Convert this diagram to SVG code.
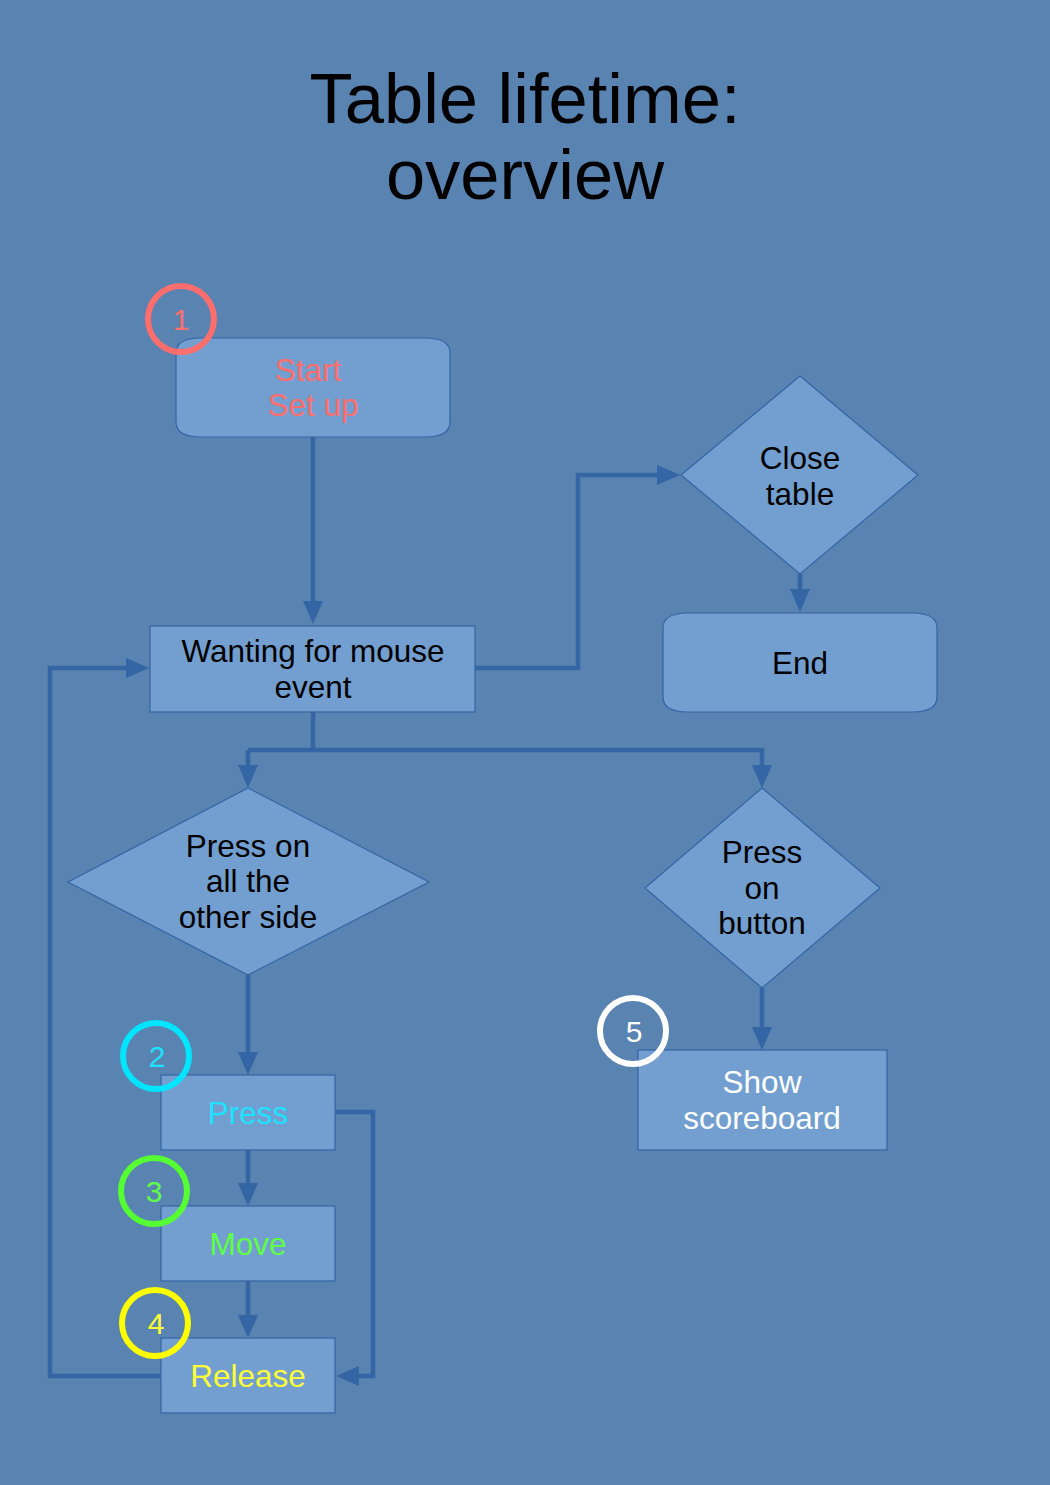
<svg xmlns="http://www.w3.org/2000/svg" width="1050" height="1485" viewBox="0 0 1050 1485">
<defs>
<marker id="ah" markerUnits="userSpaceOnUse" markerWidth="24" markerHeight="20" refX="2" refY="10" orient="auto">
<path d="M0,0 L23,10 L0,20 z" fill="#3465a4"/>
</marker>
<style>
.bg{fill:#5983b0}
.n{fill:#729fcf;stroke:#3465a4;stroke-width:1.2}
.c{fill:none;stroke:#3465a4;stroke-width:4.5;marker-end:url(#ah)}
.cn{fill:none;stroke:#3465a4;stroke-width:4.5}
text{font-family:"Liberation Sans",Arial,sans-serif;text-anchor:middle}
.t{font-size:31.5px;fill:#000}
.ring{fill:none;stroke-width:6}
.num{font-size:30px}
</style>
</defs>
<rect class="bg" x="0" y="0" width="1050" height="1485"/>
<g id="title">
<text x="525" y="123" font-size="70.5">Table lifetime:</text>
<text x="525" y="199" font-size="70.5">overview</text>
</g>
<g id="connectors">
<path class="c" d="M313,437 V603"/>
<path class="c" d="M475,668 H578 V475 H659"/>
<path class="c" d="M800,574 V591"/>
<path class="cn" d="M313,712 V750"/>
<path class="c" d="M248,750 H762 V767"/>
<path class="c" d="M248,750 V767"/>
<path class="c" d="M248,975 V1054"/>
<path class="c" d="M248,1150 V1185"/>
<path class="c" d="M248,1281 V1317"/>
<path class="c" d="M335,1112 H373 V1376 H357"/>
<path class="c" d="M161,1376 H50 V668 H128"/>
<path class="c" d="M762,988 V1029"/>
</g>
<g id="start">
<path class="n" d="M201,338 H425 Q450,338 450,353 V422 Q450,437 425,437 H201 Q176,437 176,422 V353 Q176,338 201,338 Z"/>
<text x="308" y="381" font-size="31.5" fill="#ff6d6d">Start</text>
<text x="313" y="416" font-size="31.5" fill="#ff6d6d">Set up</text>
</g>
<g id="badge1">
<circle class="ring" cx="181" cy="319" r="33" stroke="#ff6d6d"/>
<text class="num" x="181" y="330" fill="#ff6d6d">1</text>
</g>
<g id="wanting">
<rect class="n" x="150" y="626" width="325" height="86"/>
<text class="t" x="313" y="662">Wanting for mouse</text>
<text class="t" x="313" y="698">event</text>
</g>
<g id="close">
<polygon class="n" points="800,376 918,475 800,574 681,475"/>
<text class="t" x="800" y="469">Close</text>
<text class="t" x="800" y="505">table</text>
</g>
<g id="end">
<path class="n" d="M688,613 H912 Q937,613 937,628 V697 Q937,712 912,712 H688 Q663,712 663,697 V628 Q663,613 688,613 Z"/>
<text class="t" x="800" y="674">End</text>
</g>
<g id="pressSide">
<polygon class="n" points="248,788 429,882 248,975 68,882"/>
<text class="t" x="248" y="857">Press on</text>
<text class="t" x="248" y="892">all the</text>
<text class="t" x="248" y="928">other side</text>
</g>
<g id="pressButton">
<polygon class="n" points="762,788 880,888 762,988 645,888"/>
<text class="t" x="762" y="863">Press</text>
<text class="t" x="762" y="899">on</text>
<text class="t" x="762" y="934">button</text>
</g>
<g id="press">
<rect class="n" x="161" y="1075" width="174" height="75"/>
<text x="248" y="1124" font-size="31.5" fill="#1ee1ff">Press</text>
</g>
<g id="badge2">
<circle class="ring" cx="156" cy="1056" r="33" stroke="#00e5ff"/>
<text class="num" x="157" y="1067" fill="#1ee1ff">2</text>
</g>
<g id="move">
<rect class="n" x="161" y="1206" width="174" height="75"/>
<text x="248" y="1255" font-size="31.5" fill="#5eff46">Move</text>
</g>
<g id="badge3">
<circle class="ring" cx="154" cy="1191" r="33" stroke="#55ff33"/>
<text class="num" x="154" y="1202" fill="#5eff46">3</text>
</g>
<g id="release">
<rect class="n" x="161" y="1338" width="174" height="75"/>
<text x="248" y="1387" font-size="31.5" fill="#ffff38">Release</text>
</g>
<g id="badge4">
<circle class="ring" cx="155" cy="1323" r="33" stroke="#ffff00"/>
<text class="num" x="156" y="1334" fill="#ffff38">4</text>
</g>
<g id="scoreboard">
<rect class="n" x="638" y="1050" width="249" height="100"/>
<text x="762" y="1093" font-size="31.5" fill="#ffffff">Show</text>
<text x="762" y="1129" font-size="31.5" fill="#ffffff">scoreboard</text>
</g>
<g id="badge5">
<circle class="ring" cx="633" cy="1031" r="33" stroke="#ffffff"/>
<text class="num" x="634" y="1042" fill="#ffffff">5</text>
</g>
</svg>
